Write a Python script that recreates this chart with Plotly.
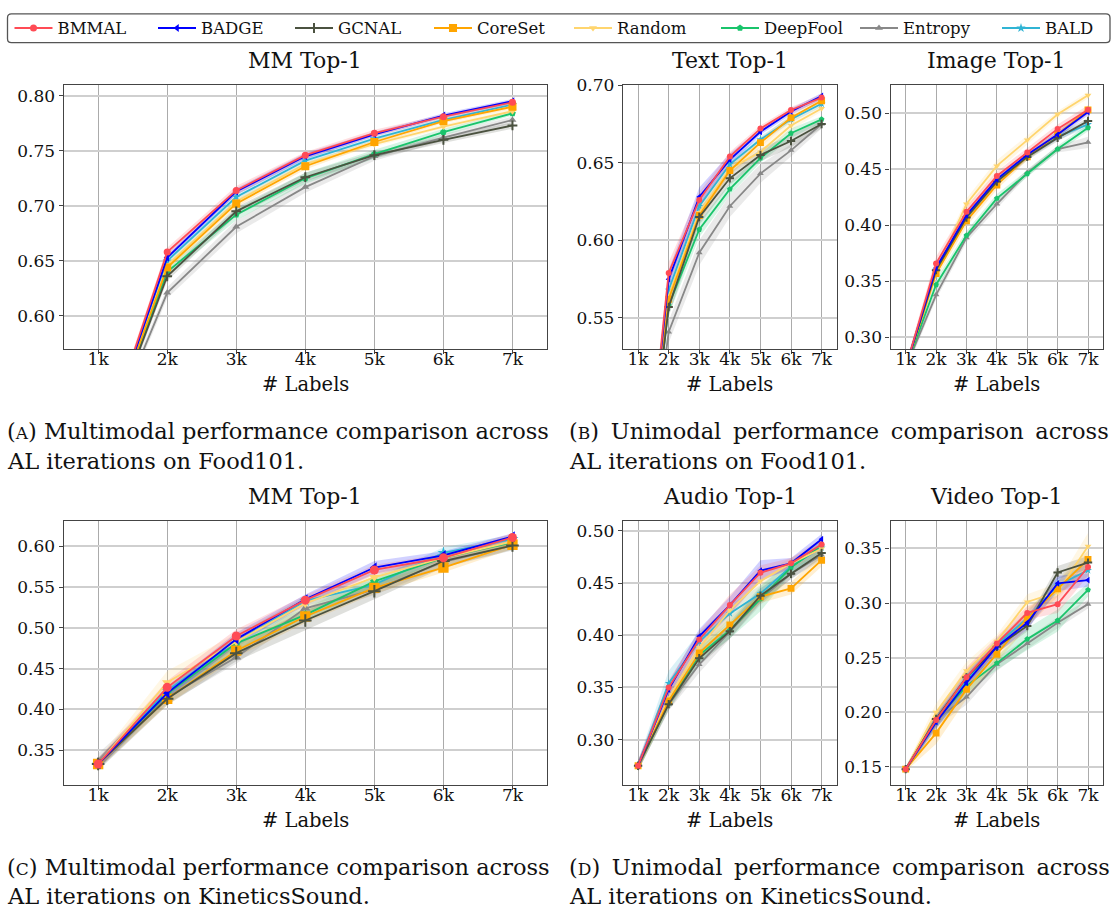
import plotly.graph_objects as go

# Number of labelled samples per active-learning round
X_LABELS = [1000, 2000, 3000, 4000, 5000, 6000, 7000]
TICK_TEXT = ["1k", "2k", "3k", "4k", "5k", "6k", "7k"]

METHODS = ["BMMAL", "BADGE", "GCNAL", "CoreSet", "Random", "DeepFool", "Entropy", "BALD"]

# Food101 - multimodal top-1 accuracy (mean over runs)
FOOD_MM = {
    "BMMAL":    [0.470, 0.658, 0.714, 0.746, 0.766, 0.781, 0.794],
    "BADGE":    [0.470, 0.653, 0.713, 0.745, 0.765, 0.782, 0.795],
    "GCNAL":    [0.470, 0.636, 0.695, 0.726, 0.746, 0.760, 0.773],
    "CoreSet":  [0.470, 0.644, 0.702, 0.736, 0.758, 0.777, 0.790],
    "Random":   [0.470, 0.646, 0.704, 0.738, 0.756, 0.772, 0.786],
    "DeepFool": [0.470, 0.640, 0.692, 0.725, 0.747, 0.767, 0.784],
    "Entropy":  [0.470, 0.621, 0.681, 0.717, 0.745, 0.762, 0.778],
    "BALD":     [0.470, 0.650, 0.708, 0.741, 0.761, 0.778, 0.792],
}
FOOD_MM_SD = {
    "BMMAL":    [0.004, 0.004, 0.004, 0.003, 0.003, 0.002, 0.002],
    "BADGE":    [0.004, 0.003, 0.003, 0.003, 0.002, 0.002, 0.002],
    "GCNAL":    [0.004, 0.004, 0.004, 0.004, 0.003, 0.003, 0.003],
    "CoreSet":  [0.004, 0.003, 0.003, 0.003, 0.002, 0.002, 0.002],
    "Random":   [0.004, 0.003, 0.003, 0.002, 0.002, 0.002, 0.002],
    "DeepFool": [0.004, 0.004, 0.005, 0.005, 0.004, 0.003, 0.002],
    "Entropy":  [0.004, 0.005, 0.006, 0.005, 0.004, 0.003, 0.003],
    "BALD":     [0.004, 0.003, 0.003, 0.003, 0.002, 0.002, 0.002],
}

# Food101 - text-only top-1 accuracy
FOOD_TEXT = {
    "BMMAL":    [0.390, 0.579, 0.626, 0.654, 0.672, 0.684, 0.692],
    "BADGE":    [0.390, 0.575, 0.628, 0.652, 0.670, 0.683, 0.693],
    "GCNAL":    [0.390, 0.557, 0.615, 0.640, 0.655, 0.664, 0.675],
    "CoreSet":  [0.390, 0.562, 0.616, 0.645, 0.663, 0.679, 0.690],
    "Random":   [0.390, 0.564, 0.618, 0.646, 0.657, 0.674, 0.685],
    "DeepFool": [0.390, 0.558, 0.607, 0.633, 0.653, 0.669, 0.678],
    "Entropy":  [0.390, 0.541, 0.592, 0.622, 0.643, 0.658, 0.675],
    "BALD":     [0.390, 0.568, 0.622, 0.649, 0.665, 0.678, 0.688],
}
FOOD_TEXT_SD = {
    "BMMAL":    [0.006, 0.007, 0.005, 0.003, 0.002, 0.002, 0.002],
    "BADGE":    [0.006, 0.006, 0.006, 0.004, 0.002, 0.002, 0.002],
    "GCNAL":    [0.006, 0.006, 0.005, 0.004, 0.004, 0.004, 0.003],
    "CoreSet":  [0.006, 0.005, 0.004, 0.003, 0.003, 0.002, 0.002],
    "Random":   [0.006, 0.005, 0.004, 0.003, 0.003, 0.003, 0.002],
    "DeepFool": [0.006, 0.006, 0.005, 0.004, 0.003, 0.003, 0.002],
    "Entropy":  [0.006, 0.007, 0.008, 0.007, 0.006, 0.004, 0.003],
    "BALD":     [0.006, 0.006, 0.004, 0.003, 0.002, 0.002, 0.002],
}

# Food101 - image-only top-1 accuracy
FOOD_IMAGE = {
    "BMMAL":    [0.273, 0.366, 0.412, 0.444, 0.465, 0.486, 0.503],
    "BADGE":    [0.273, 0.362, 0.409, 0.441, 0.463, 0.481, 0.501],
    "GCNAL":    [0.273, 0.360, 0.407, 0.439, 0.461, 0.478, 0.493],
    "CoreSet":  [0.273, 0.357, 0.404, 0.436, 0.461, 0.481, 0.503],
    "Random":   [0.273, 0.359, 0.419, 0.453, 0.476, 0.499, 0.516],
    "DeepFool": [0.273, 0.347, 0.391, 0.424, 0.446, 0.468, 0.487],
    "Entropy":  [0.273, 0.338, 0.389, 0.419, 0.447, 0.468, 0.474],
    "BALD":     [0.273, 0.360, 0.407, 0.440, 0.462, 0.479, 0.490],
}
FOOD_IMAGE_SD = {
    "BMMAL":    [0.004, 0.006, 0.005, 0.004, 0.004, 0.004, 0.004],
    "BADGE":    [0.004, 0.004, 0.004, 0.003, 0.003, 0.003, 0.003],
    "GCNAL":    [0.004, 0.004, 0.004, 0.003, 0.003, 0.003, 0.003],
    "CoreSet":  [0.004, 0.005, 0.005, 0.004, 0.003, 0.003, 0.003],
    "Random":   [0.004, 0.005, 0.005, 0.005, 0.004, 0.003, 0.003],
    "DeepFool": [0.004, 0.005, 0.004, 0.004, 0.003, 0.003, 0.003],
    "Entropy":  [0.004, 0.004, 0.004, 0.004, 0.003, 0.003, 0.005],
    "BALD":     [0.004, 0.004, 0.004, 0.003, 0.003, 0.003, 0.003],
}

# KineticsSound - multimodal top-1 accuracy
KS_MM = {
    "BMMAL":    [0.333, 0.427, 0.490, 0.534, 0.571, 0.586, 0.611],
    "BADGE":    [0.333, 0.420, 0.486, 0.535, 0.574, 0.589, 0.612],
    "GCNAL":    [0.333, 0.413, 0.469, 0.509, 0.545, 0.582, 0.601],
    "CoreSet":  [0.333, 0.413, 0.472, 0.514, 0.549, 0.574, 0.602],
    "Random":   [0.333, 0.433, 0.483, 0.530, 0.562, 0.586, 0.606],
    "DeepFool": [0.333, 0.419, 0.481, 0.516, 0.557, 0.586, 0.605],
    "Entropy":  [0.336, 0.415, 0.464, 0.524, 0.547, 0.581, 0.601],
    "BALD":     [0.333, 0.423, 0.483, 0.533, 0.553, 0.592, 0.609],
}
KS_MM_SD = {
    "BMMAL":    [0.006, 0.008, 0.008, 0.006, 0.006, 0.005, 0.005],
    "BADGE":    [0.006, 0.007, 0.008, 0.006, 0.008, 0.005, 0.004],
    "GCNAL":    [0.008, 0.008, 0.010, 0.012, 0.010, 0.008, 0.006],
    "CoreSet":  [0.006, 0.008, 0.008, 0.008, 0.007, 0.006, 0.005],
    "Random":   [0.006, 0.014, 0.010, 0.007, 0.006, 0.005, 0.004],
    "DeepFool": [0.006, 0.007, 0.008, 0.008, 0.007, 0.006, 0.005],
    "Entropy":  [0.010, 0.008, 0.008, 0.008, 0.007, 0.006, 0.005],
    "BALD":     [0.006, 0.007, 0.007, 0.006, 0.006, 0.007, 0.005],
}

# KineticsSound - audio-only top-1 accuracy
KS_AUDIO = {
    "BMMAL":    [0.275, 0.350, 0.396, 0.429, 0.460, 0.469, 0.487],
    "BADGE":    [0.275, 0.348, 0.399, 0.429, 0.462, 0.469, 0.492],
    "GCNAL":    [0.275, 0.334, 0.378, 0.404, 0.438, 0.459, 0.479],
    "CoreSet":  [0.275, 0.337, 0.383, 0.410, 0.437, 0.445, 0.472],
    "Random":   [0.275, 0.340, 0.388, 0.424, 0.452, 0.469, 0.483],
    "DeepFool": [0.275, 0.335, 0.381, 0.405, 0.435, 0.465, 0.486],
    "Entropy":  [0.275, 0.334, 0.372, 0.404, 0.435, 0.459, 0.477],
    "BALD":     [0.275, 0.354, 0.394, 0.421, 0.440, 0.466, 0.484],
}
KS_AUDIO_SD = {
    "BMMAL":    [0.005, 0.007, 0.008, 0.010, 0.007, 0.005, 0.005],
    "BADGE":    [0.005, 0.007, 0.007, 0.008, 0.010, 0.005, 0.005],
    "GCNAL":    [0.005, 0.006, 0.007, 0.007, 0.007, 0.005, 0.005],
    "CoreSet":  [0.005, 0.006, 0.006, 0.007, 0.006, 0.006, 0.006],
    "Random":   [0.005, 0.006, 0.007, 0.007, 0.007, 0.005, 0.005],
    "DeepFool": [0.005, 0.006, 0.007, 0.008, 0.012, 0.006, 0.005],
    "Entropy":  [0.005, 0.006, 0.008, 0.007, 0.006, 0.005, 0.005],
    "BALD":     [0.005, 0.012, 0.009, 0.008, 0.008, 0.006, 0.005],
}

# KineticsSound - video-only top-1 accuracy
KS_VIDEO = {
    "BMMAL":    [0.148, 0.193, 0.232, 0.263, 0.291, 0.299, 0.333],
    "BADGE":    [0.148, 0.191, 0.227, 0.260, 0.282, 0.318, 0.321],
    "GCNAL":    [0.148, 0.194, 0.232, 0.260, 0.279, 0.328, 0.337],
    "CoreSet":  [0.148, 0.181, 0.221, 0.253, 0.286, 0.313, 0.340],
    "Random":   [0.148, 0.200, 0.238, 0.265, 0.301, 0.310, 0.352],
    "DeepFool": [0.148, 0.193, 0.224, 0.245, 0.267, 0.284, 0.312],
    "Entropy":  [0.148, 0.193, 0.214, 0.244, 0.263, 0.282, 0.299],
    "BALD":     [0.148, 0.191, 0.229, 0.262, 0.286, 0.316, 0.330],
}
KS_VIDEO_SD = {
    "BMMAL":    [0.002, 0.006, 0.009, 0.006, 0.006, 0.008, 0.008],
    "BADGE":    [0.002, 0.006, 0.007, 0.006, 0.006, 0.007, 0.006],
    "GCNAL":    [0.002, 0.006, 0.006, 0.006, 0.005, 0.006, 0.006],
    "CoreSet":  [0.002, 0.010, 0.009, 0.007, 0.008, 0.007, 0.008],
    "Random":   [0.002, 0.008, 0.008, 0.006, 0.007, 0.008, 0.012],
    "DeepFool": [0.002, 0.006, 0.007, 0.006, 0.010, 0.010, 0.006],
    "Entropy":  [0.002, 0.006, 0.007, 0.006, 0.005, 0.005, 0.004],
    "BALD":     [0.002, 0.006, 0.007, 0.006, 0.006, 0.007, 0.006],
}

# Line colour and marker for each strategy
COLORS = {
    "BMMAL": "#ff4b55", "BADGE": "#0000ff", "GCNAL": "#4b5240", "CoreSet": "#ffa500",
    "Random": "#ffd56e", "DeepFool": "#19c46b", "Entropy": "#888888", "BALD": "#30b4d4",
}
SYMBOLS = {
    "BMMAL": "circle", "BADGE": "triangle-left", "GCNAL": "cross-thin", "CoreSet": "square",
    "Random": "triangle-down", "DeepFool": "pentagon", "Entropy": "triangle-up", "BALD": "star",
}
DRAW_ORDER = ["BALD", "Entropy", "DeepFool", "Random", "CoreSet", "GCNAL", "BADGE", "BMMAL"]

# Horizontal centre (px) of each legend key inside the top legend strip
LEGEND_KEY_X = [29.5, 173, 310, 449, 589, 736, 875, 1017]

W, H = 1113, 919
FONT = "DejaVu Serif"
INK = "#111111"


def px_x(v):
    return v / W


def px_y(v):
    return 1 - v / H


def rgba(hex_color, a):
    h = hex_color.lstrip("#")
    r, g, b = int(h[0:2], 16), int(h[2:4], 16), int(h[4:6], 16)
    return f"rgba({r},{g},{b},{a})"


# Panel frames in pixels: (left, right, top, bottom)
PANELS = [
    dict(title="MM Top-1", data=FOOD_MM, sd=FOOD_MM_SD, box=(63.6, 547.0, 76.0, 342.7),
         yrange=[0.570, 0.8096], ticks=[0.60, 0.65, 0.70, 0.75, 0.80], ms=7),
    dict(title="Text Top-1", data=FOOD_TEXT, sd=FOOD_TEXT_SD, box=(622.8, 836.9, 76.0, 342.7),
         yrange=[0.530, 0.700], ticks=[0.55, 0.60, 0.65, 0.70], ms=6),
    dict(title="Image Top-1", data=FOOD_IMAGE, sd=FOOD_IMAGE_SD, box=(890.5, 1103.2, 76.0, 342.7),
         yrange=[0.2897, 0.525], ticks=[0.30, 0.35, 0.40, 0.45, 0.50], ms=6),
    dict(title="MM Top-1", data=KS_MM, sd=KS_MM_SD, box=(63.6, 547.0, 516.7, 783.3),
         yrange=[0.3075, 0.631], ticks=[0.35, 0.40, 0.45, 0.50, 0.55, 0.60], ms=9),
    dict(title="Audio Top-1", data=KS_AUDIO, sd=KS_AUDIO_SD, box=(622.8, 836.9, 516.7, 783.3),
         yrange=[0.2567, 0.5095], ticks=[0.30, 0.35, 0.40, 0.45, 0.50], ms=6),
    dict(title="Video Top-1", data=KS_VIDEO, sd=KS_VIDEO_SD, box=(890.5, 1103.2, 516.7, 783.3),
         yrange=[0.1337, 0.375], ticks=[0.15, 0.20, 0.25, 0.30, 0.35], ms=6),
]

fig = go.Figure()
layout = dict(
    width=W, height=H, margin=dict(l=0, r=0, t=0, b=0),
    paper_bgcolor="white", plot_bgcolor="white",
    font=dict(family=FONT, size=17, color=INK),
    showlegend=True,
)
annotations = []

for i, p in enumerate(PANELS, start=1):
    xa = "x" if i == 1 else f"x{i}"
    ya = "y" if i == 1 else f"y{i}"
    left, right, top, bottom = p["box"]
    common = dict(showline=True, mirror=True, linecolor="#444444", linewidth=1.2,
                  ticks="outside", ticklen=4, tickcolor="#444444", tickwidth=1,
                  zeroline=False, tickfont=dict(family=FONT, size=17, color=INK))
    layout[f"xaxis{i if i > 1 else ''}"] = dict(
        domain=[px_x(left), px_x(right)], anchor=ya, range=[500, 7500],
        tickvals=X_LABELS, ticktext=TICK_TEXT, showgrid=True, ticklabelstandoff=-9,
        gridcolor="#ababab", gridwidth=1, **common)
    layout[f"yaxis{i if i > 1 else ''}"] = dict(
        domain=[px_y(bottom), px_y(top)], anchor=xa, range=p["yrange"],
        tickvals=p["ticks"], tickformat=".2f", showgrid=True,
        gridcolor="#cfcfcf", gridwidth=2, **common)

    # shaded spread bands
    for m in DRAW_ORDER:
        mean, sd = p["data"][m], p["sd"][m]
        upper = [a + b for a, b in zip(mean, sd)]
        lower = [a - b for a, b in zip(mean, sd)]
        fig.add_trace(go.Scatter(x=X_LABELS, y=upper, xaxis=xa, yaxis=ya, mode="lines",
                                 line=dict(width=0, color=COLORS[m]), showlegend=False,
                                 hoverinfo="skip"))
        fig.add_trace(go.Scatter(x=X_LABELS, y=lower, xaxis=xa, yaxis=ya, mode="lines",
                                 line=dict(width=0, color=COLORS[m]), fill="tonexty",
                                 fillcolor=rgba(COLORS[m], 0.18), showlegend=False,
                                 hoverinfo="skip"))
    # mean curves
    for m in DRAW_ORDER:
        k = METHODS.index(m) + 1
        sym = SYMBOLS[m]
        size = p["ms"] * (1.15 if sym == "square" else 1.0)
        mline = dict(width=2, color=COLORS[m]) if sym == "cross-thin" else dict(width=0)
        fig.add_trace(go.Scatter(
            x=X_LABELS, y=p["data"][m], xaxis=xa, yaxis=ya, mode="lines+markers",
            name=m, showlegend=(i == 1), legend="legend" if k == 1 else f"legend{k}",
            line=dict(width=1.8, color=COLORS[m]),
            marker=dict(symbol=sym, size=size, color=COLORS[m], line=mline),
        ))

    cx = px_x((left + right) / 2)
    annotations.append(dict(text=p["title"], x=cx, y=px_y(top - 10), xref="paper", yref="paper",
                            xanchor="center", yanchor="bottom", showarrow=False,
                            font=dict(family=FONT, size=22, color=INK)))
    annotations.append(dict(text="# Labels", x=cx, y=px_y(bottom + 36), xref="paper", yref="paper",
                            xanchor="center", yanchor="middle", showarrow=False,
                            font=dict(family=FONT, size=19.5, color=INK)))

# Sub-figure captions
CAP_FONT = dict(family=FONT, size=22.5, color=INK)
SC = "<span style='font-size:17px'>{}</span>"
GAP = " \u2009"
CAPTIONS = [
    (5, 426, "(" + SC.format("A") + ") Multimodal performance comparison across"),
    (5, 456, "AL iterations on Food101."),
    (567, 426, "(" + SC.format("B") + ")" + GAP + "Unimodal" + GAP + "performance" + GAP
     + "comparison" + GAP + "across"),
    (567, 456, "AL iterations on Food101."),
    (5, 866, "(" + SC.format("C") + ") Multimodal performance comparison across"),
    (5, 896, "AL iterations on KineticsSound."),
    (567, 866, "(" + SC.format("D") + ")" + GAP + "Unimodal" + GAP + "performance" + GAP
     + "comparison" + GAP + "across"),
    (567, 896, "AL iterations on KineticsSound."),
]
for x, y, t in CAPTIONS:
    annotations.append(dict(text=t, x=px_x(x), y=px_y(y), xref="paper", yref="paper",
                            xanchor="left", yanchor="middle", showarrow=False, font=CAP_FONT))

layout["annotations"] = annotations

# one legend per key so the keys sit at fixed positions in a single framed strip
for k, cxk in enumerate(LEGEND_KEY_X, start=1):
    layout["legend" if k == 1 else f"legend{k}"] = dict(
        orientation="h", x=px_x(cxk - 20), y=px_y(18.5), xanchor="left", yanchor="middle",
        borderwidth=0, bgcolor="rgba(0,0,0,0)", itemwidth=38,
        font=dict(family=FONT, size=16.5, color=INK),
    )


def _path_to_paper(points):
    """Build an SVG path in paper coordinates from (cmd, [(px, py), ...]) steps."""
    parts = []
    for cmd, pts in points:
        coords = " ".join(f"{px_x(a):.5f},{px_y(b):.5f}" for a, b in pts)
        parts.append(f"{cmd} {coords}".strip())
    return " ".join(parts)


# rounded frame around the legend strip
x0, x1, y0, y1, r = 7.5, 1110, 4, 33, 4
frame = [
    ("M", [(x0 + r, y0)]), ("L", [(x1 - r, y0)]), ("Q", [(x1, y0), (x1, y0 + r)]),
    ("L", [(x1, y1 - r)]), ("Q", [(x1, y1), (x1 - r, y1)]), ("L", [(x0 + r, y1)]),
    ("Q", [(x0, y1), (x0, y1 - r)]), ("L", [(x0, y0 + r)]), ("Q", [(x0, y0), (x0 + r, y0)]),
    ("Z", []),
]
layout["shapes"] = [dict(type="path", xref="paper", yref="paper", path=_path_to_paper(frame),
                         line=dict(color="#555555", width=1.3), fillcolor="rgba(0,0,0,0)",
                         layer="above")]
fig.update_layout(**layout)
fig.write_html("out.html")
